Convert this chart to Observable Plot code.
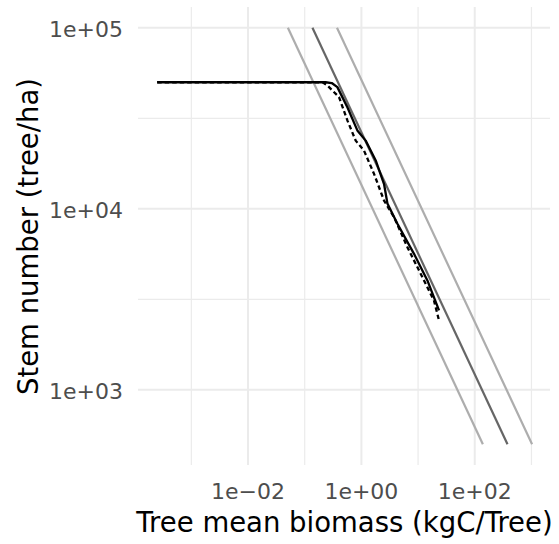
<!DOCTYPE html>
<html>
<head>
<meta charset="utf-8">
<script src="https://cdn.jsdelivr.net/npm/d3@7"></script>
<script src="https://cdn.jsdelivr.net/npm/@observablehq/plot@0.6"></script>
<style>
  html, body { margin: 0; padding: 0; background: #ffffff; }
  #chart svg { display: block; }
</style>
</head>
<body>
<div id="chart"></div>
<script>
// ---- tick positions and labels ----
const xTicks = [1e-2, 1, 1e2];
const xTickLabels = ["1e\u221202", "1e+00", "1e+02"];
const xMinorTicks = [1e-3, 1e-1, 1e1, 1e3];
const yTicks = [1e3, 1e4, 1e5];
const yTickLabels = ["1e+03", "1e+04", "1e+05"];
const yMinorTicks = [3162, 31623];

// ---- axis titles ----
const xTitle = "Tree mean biomass (kgC/Tree)";
const yTitle = "Stem number (tree/ha)";

// ---- reference (self-thinning) lines: stem number at both ends, biomass per line ----
const refN = [100000, 500];
const refLowerB = [0.0505, 139];
const refMiddleB = [0.137, 378];
const refUpperB = [0.371, 1026];

// ---- solid trajectory ----
const solidB = [0.00025, 0.234, 0.30, 0.377, 0.566, 0.849, 1.19, 1.79, 2.51, 2.88, 4.32, 8.48, 14.6, 23.4];
const solidN = [50000, 50000, 49500, 47000, 36400, 27100, 23800, 18500, 13700, 10700, 8270, 5640, 4020, 2750];

// ---- dashed trajectory ----
const dashedB = [0.00025, 0.207, 0.251, 0.403, 0.566, 0.793, 1.11, 1.67, 2.51, 3.76, 6.48, 11.1, 19.1, 23.4];
const dashedN = [50000, 50000, 48000, 41400, 30800, 23800, 21000, 15600, 11100, 9000, 6140, 4380, 3110, 2420];

// ---- build tables ----
const toRows = (B, N, group) => B.map((b, i) => ({b, n: N[i], group}));
const refRows = [
  ...toRows(refLowerB, refN, "lower"),
  ...toRows(refMiddleB, refN, "middle"),
  ...toRows(refUpperB, refN, "upper")
];
const solidRows = toRows(solidB, solidN, "solid");
const dashedRows = toRows(dashedB, dashedN, "dashed");

const FONT = "'DejaVu Sans', 'Liberation Sans', Arial, sans-serif";
const GRID = "#ebebeb";

const chart = Plot.plot({
  width: 559,
  height: 544,
  marginLeft: 138,
  marginRight: 9,
  marginTop: 7,
  marginBottom: 79,
  style: {fontFamily: FONT, background: "#ffffff"},
  x: {type: "log", domain: [1.17e-4, 2168]},
  y: {type: "log", domain: [382, 129400]},
  marks: [
    // minor grid
    Plot.ruleX(xMinorTicks, {stroke: GRID, strokeWidth: 1.2}),
    Plot.ruleY(yMinorTicks, {stroke: GRID, strokeWidth: 1.2}),
    // major grid
    Plot.ruleX(xTicks, {stroke: GRID, strokeWidth: 2}),
    Plot.ruleY(yTicks, {stroke: GRID, strokeWidth: 2}),
    // axes
    Plot.axisX(xTicks, {
      tickSize: 0, tickPadding: 18, label: null,
      tickFormat: d => xTickLabels[xTicks.indexOf(d)],
      fontSize: 22, fill: "#4d4d4d", fontFamily: FONT
    }),
    Plot.axisY(yTicks, {
      tickSize: 0, tickPadding: 15.5, label: null, dy: 2,
      tickFormat: d => yTickLabels[yTicks.indexOf(d)],
      fontSize: 22, fill: "#4d4d4d", fontFamily: FONT
    }),
    // reference lines
    Plot.line(refRows, {
      x: "b", y: "n", z: "group",
      stroke: d => d.group === "middle" ? "#666666" : "#adadad",
      strokeWidth: 2.2, strokeLinecap: "butt"
    }),
    // trajectories
    Plot.line(solidRows, {x: "b", y: "n", stroke: "#000000", strokeWidth: 2.3, strokeLinecap: "butt"}),
    Plot.line(dashedRows, {x: "b", y: "n", stroke: "#000000", strokeWidth: 2.3, strokeDasharray: "4.5,3", strokeLinecap: "butt"}),
    // axis titles
    Plot.text([xTitle], {
      text: d => d, frameAnchor: "bottom", dy: 57.9, textAnchor: "middle",
      fontSize: 27.5, fill: "#000000", fontFamily: FONT, lineAnchor: "middle"
    }),
    Plot.text([yTitle], {
      text: d => d, frameAnchor: "left", dx: -109.5, rotate: -90, textAnchor: "middle",
      fontSize: 27.5, fill: "#000000", fontFamily: FONT, lineAnchor: "middle"
    })
  ]
});

document.getElementById("chart").appendChild(chart);
</script>
</body>
</html>
